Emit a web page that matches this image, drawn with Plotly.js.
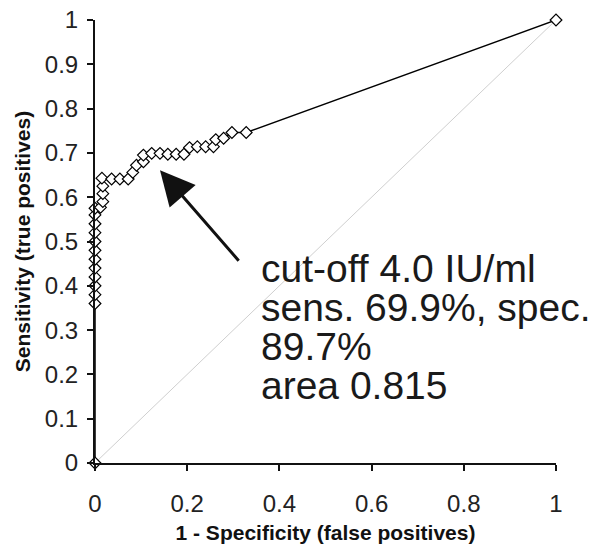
<!DOCTYPE html>
<html>
<head>
<meta charset="utf-8">
<script src="https://cdn.plot.ly/plotly-3.0.1.min.js"></script>
<style>body{margin:0;padding:0;background:#fff;} #chart{width:598px;height:544px;}</style>
</head>
<body>
<div id="chart"></div>
<script>
// ROC points: 1 - specificity (x) and sensitivity (y)
const fpr = [0, 0, 0, 0, 0, 0, 0, 0, 0, 0, 0, 0, 0,
  0.012, 0.017, 0.017, 0.017, 0.015, 0.036, 0.054, 0.072, 0.082, 0.09, 0.105, 0.105,
  0.123, 0.141, 0.158, 0.176, 0.193, 0.205, 0.222, 0.240, 0.257, 0.262, 0.279, 0.297, 0.328, 1];
const tpr = [0, 0.36, 0.38, 0.40, 0.42, 0.44, 0.46, 0.48, 0.50, 0.52, 0.54, 0.56, 0.575,
  0.577, 0.59, 0.608, 0.625, 0.643, 0.641, 0.641, 0.641, 0.656, 0.672, 0.68, 0.695,
  0.699, 0.699, 0.697, 0.697, 0.697, 0.712, 0.714, 0.714, 0.714, 0.730, 0.733, 0.746, 0.746, 1];
const refLine = [0, 1];
const xTicks = [0, 0.2, 0.4, 0.6, 0.8, 1];
const yTicks = [0, 0.1, 0.2, 0.3, 0.4, 0.5, 0.6, 0.7, 0.8, 0.9, 1];
const noteLines = ["cut-off 4.0 IU/ml", "sens. 69.9%, spec.", "89.7%", "area 0.815"];
const arrowTip = {x: 0.141, y: 0.661};

const traces = [
  {x: refLine, y: refLine, mode: 'lines', line: {color: '#cfcfcf', width: 1}, hoverinfo: 'skip', cliponaxis: false},
  {x: fpr, y: tpr, mode: 'lines+markers', cliponaxis: false,
   line: {color: '#000', width: 1.5},
   marker: {symbol: 'diamond', size: 9, color: '#fff', line: {color: '#000', width: 1.2}}}
];

const annotations = noteLines.map((t, i) => ({
  xref: 'paper', yref: 'paper', x: (259 - 95) / 461, y: (463 - (268 + i * 39.3)) / 443,
  xanchor: 'left', yanchor: 'middle', showarrow: false, align: 'left',
  text: t, font: {family: 'Liberation Sans, Arial, sans-serif', size: 39, color: '#1a1a1a'}
}));
annotations.push({
  x: arrowTip.x, y: arrowTip.y, xref: 'x', yref: 'y', text: '', showarrow: true,
  ax: 80, ay: 92, arrowhead: 2, arrowsize: 2.3, arrowwidth: 3, arrowcolor: '#111', standoff: 0
});

const fontTick = {family: 'Liberation Sans, Arial, sans-serif', size: 24, color: '#222'};
const fontTitle = {family: 'Liberation Sans, Arial, sans-serif', size: 21, color: '#111', weight: 'bold'};
const layout = {
  width: 598, height: 544, showlegend: false,
  paper_bgcolor: '#fff', plot_bgcolor: '#fff',
  margin: {l: 95, r: 42, t: 20, b: 81},
  xaxis: {range: [0, 1], tickvals: xTicks, ticktext: xTicks.map(String), showgrid: false, zeroline: false,
    showline: true, linecolor: '#111', linewidth: 2, ticks: 'outside', ticklen: 6, tickwidth: 2, tickcolor: '#111',
    tickfont: fontTick, ticklabelstandoff: 12,
    title: {text: '1 - Specificity (false positives)', font: fontTitle, standoff: 10}},
  yaxis: {range: [0, 1], tickvals: yTicks, ticktext: yTicks.map(String), showgrid: false, zeroline: false,
    showline: true, linecolor: '#111', linewidth: 2, ticks: 'outside', ticklen: 6, tickwidth: 2, tickcolor: '#111',
    tickfont: fontTick, ticklabelstandoff: 4,
    title: {text: 'Sensitivity (true positives)', font: fontTitle, standoff: 8}},
  annotations: annotations
};
Plotly.newPlot('chart', traces, layout, {staticPlot: true, displayModeBar: false});
</script>
</body>
</html>
